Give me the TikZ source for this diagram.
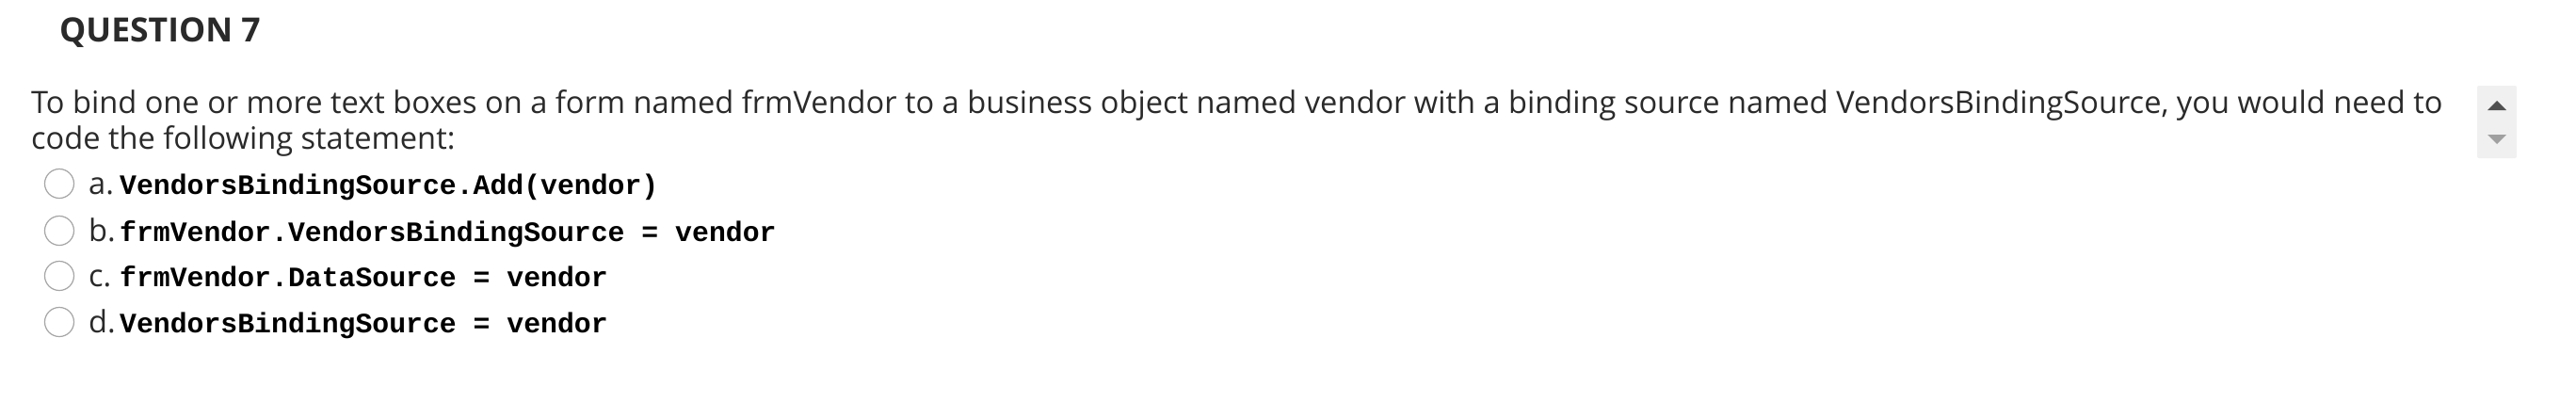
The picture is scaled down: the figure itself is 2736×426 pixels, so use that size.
\documentclass[tikz,border=0pt]{standalone}
\usepackage{fontspec}
\setmainfont{Open Sans}
\newfontfamily\codefont{Liberation Mono}
\definecolor{txt}{HTML}{2A2A2A}
\begin{document}
\begin{tikzpicture}[x=1pt,y=-1pt,
  body/.style={anchor=base west,inner sep=0pt,text=txt,font=\fontsize{32.6}{38}\selectfont},
  opt/.style={draw=gray!70,line width=1.2pt,circle,minimum size=31pt,inner sep=0pt},
  code/.style={anchor=base west,inner sep=0pt,text=black,font=\codefont\bfseries\fontsize{29.8}{34}\selectfont}]
\useasboundingbox[fill=white] (0,0) rectangle (2736,426);
\node[anchor=base west,inner sep=0pt,text=txt,font=\bfseries\fontsize{35.5}{40}\selectfont] (q) at (63,44) {QUESTION 7};
\node[body] (l1) at (33,120) {To bind one or more text boxes on a form named frmVendor to a business object named vendor with a binding source named VendorsBindingSource, you would need to};
\node[body] (l2) at (33,158) {code the following statement:};
\foreach \y/\l/\c [count=\i] in {195/a./VendorsBindingSource.Add(vendor),245/b./frmVendor.VendorsBindingSource = vendor,293/c./frmVendor.DataSource = vendor,342/d./VendorsBindingSource = vendor}{
  \node[opt] (r\i) at (63,\y) {};
  \node[body] (let\i) at (94,\y+11) {\l};
  \node[code] (c\i) at (127,\y+11) {\c};
}
\node[fill={rgb,255:red,240;green,240;blue,240},rounded corners=2pt,minimum width=42pt,minimum height=77pt,inner sep=0pt] (sb) at (2652,129.5) {};
\fill[fill={rgb,255:red,80;green,80;blue,80}] (2642,117) -- (2662,117) -- (2652,107) -- cycle;
\fill[fill={rgb,255:red,160;green,160;blue,160}] (2642,143) -- (2662,143) -- (2652,153) -- cycle;
\end{tikzpicture}
\end{document}
